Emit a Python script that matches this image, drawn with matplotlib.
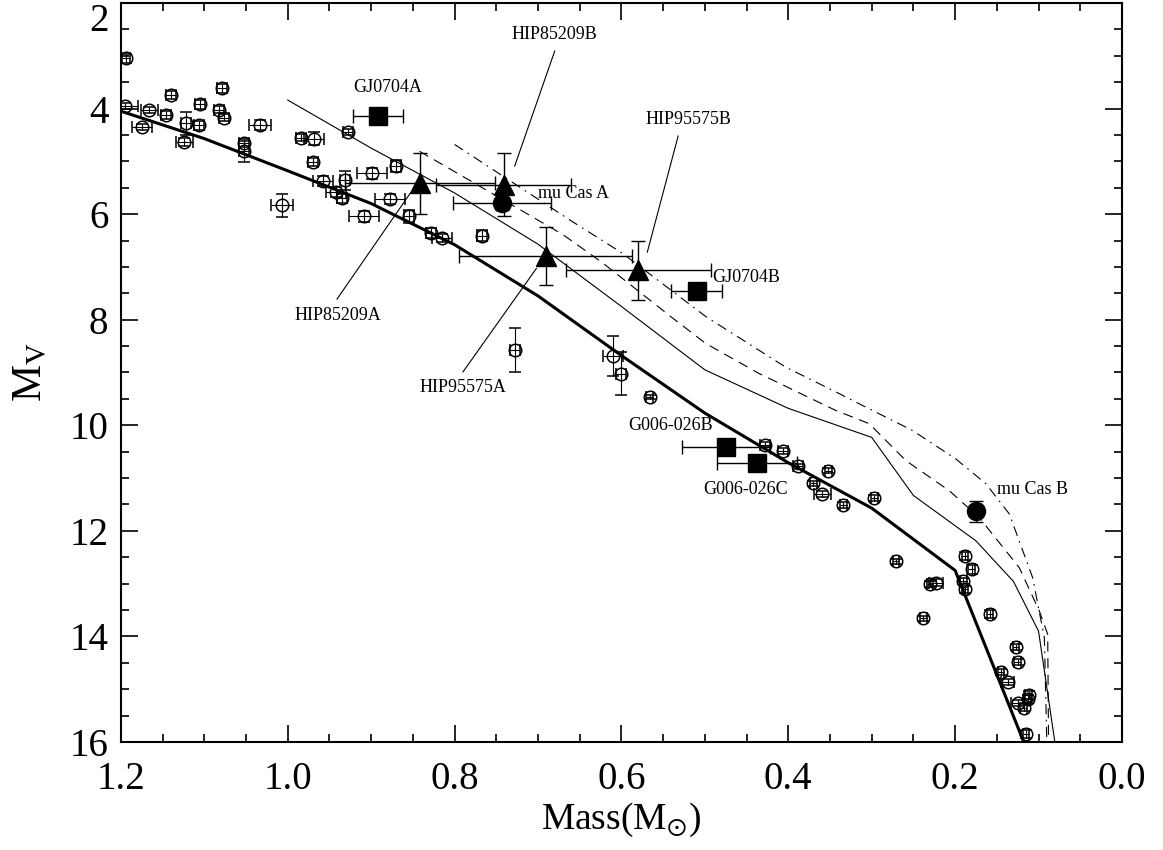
import matplotlib
matplotlib.use('Agg')
import matplotlib.pyplot as plt
from matplotlib.ticker import MultipleLocator

plt.rcParams['font.family'] = 'Liberation Serif'
plt.rcParams['mathtext.fontset'] = 'stix'

# field stars (open circles): mass, Mv, mass error, Mv error
field_mass = [1.194, 1.195, 1.166, 1.175, 1.146, 1.140, 1.122, 1.124, 1.106, 1.105,
              1.079, 1.083, 1.076, 1.053, 1.053, 1.033, 1.007, 0.984, 0.969, 0.970,
              0.958, 0.932, 0.942, 0.935, 0.928, 0.899, 0.909, 0.878, 0.870, 0.855,
              0.828, 0.815, 0.767, 0.728, 0.610, 0.600, 0.566, 0.428, 0.406, 0.388,
              0.352, 0.370, 0.359, 0.334, 0.297, 0.271, 0.230, 0.223, 0.238, 0.188,
              0.180, 0.190, 0.188, 0.158, 0.127, 0.125, 0.145, 0.137, 0.112, 0.113,
              0.125, 0.118, 0.115]
field_mv = [3.05, 3.95, 4.03, 4.35, 4.12, 3.74, 4.28, 4.63, 4.32, 3.92,
            3.62, 4.02, 4.17, 4.65, 4.81, 4.31, 5.83, 4.55, 4.57, 5.01,
            5.37, 5.36, 5.58, 5.70, 4.45, 5.23, 6.04, 5.71, 5.09, 6.04,
            6.36, 6.45, 6.41, 8.58, 8.69, 9.02, 9.47, 10.37, 10.49, 10.78,
            10.86, 11.10, 11.30, 11.51, 11.38, 12.58, 13.01, 12.98, 13.66, 12.48,
            12.73, 12.95, 13.11, 13.58, 14.20, 14.49, 14.68, 14.87, 15.11, 15.19,
            15.26, 15.35, 15.85]
field_merr = [0.005, 0.016, 0.010, 0.012, 0.006, 0.006, 0.006, 0.010, 0.006, 0.006,
              0.006, 0.006, 0.006, 0.006, 0.006, 0.013, 0.013, 0.006, 0.012, 0.006,
              0.012, 0.006, 0.012, 0.006, 0.006, 0.018, 0.018, 0.018, 0.006, 0.006,
              0.006, 0.012, 0.006, 0.006, 0.012, 0.006, 0.004, 0.006, 0.006, 0.006,
              0.004, 0.004, 0.010, 0.004, 0.004, 0.004, 0.004, 0.008, 0.004, 0.004,
              0.004, 0.004, 0.004, 0.004, 0.004, 0.004, 0.004, 0.008, 0.004, 0.004,
              0.008, 0.004, 0.004]
field_mverr = [0.08, 0.05, 0.06, 0.06, 0.08, 0.08, 0.22, 0.08, 0.08, 0.08,
               0.08, 0.06, 0.06, 0.08, 0.20, 0.10, 0.22, 0.06, 0.12, 0.08,
               0.10, 0.18, 0.10, 0.08, 0.06, 0.10, 0.10, 0.10, 0.12, 0.12,
               0.10, 0.08, 0.10, 0.42, 0.38, 0.40, 0.04, 0.05, 0.05, 0.05,
               0.05, 0.05, 0.05, 0.05, 0.05, 0.05, 0.06, 0.06, 0.05, 0.08,
               0.08, 0.06, 0.06, 0.08, 0.05, 0.06, 0.06, 0.06, 0.08, 0.08,
               0.06, 0.06, 0.08]

# binaries
sq_names = ['GJ0704A', 'GJ0704B', 'G006-026B', 'G006-026C']
sq_mass = [0.892, 0.510, 0.475, 0.438]
sq_mv = [4.14, 7.45, 10.42, 10.72]
sq_merr = [0.030, 0.030, 0.053, 0.048]

tri_names = ['HIP85209A', 'HIP85209B', 'HIP95575A', 'HIP95575B']
tri_mass = [0.841, 0.741, 0.691, 0.580]
tri_mv = [5.42, 5.44, 6.80, 7.06]
tri_merr = [0.090, 0.081, 0.104, 0.087]
tri_mverr = [0.57, 0.60, 0.55, 0.56]

mucas_names = ['mu Cas A', 'mu Cas B']
mucas_mass = [0.743, 0.175]
mucas_mv = [5.78, 11.63]
mucas_merr = [0.059, 0.004]
mucas_mverr = [0.15, 0.20]

# model curves
thick_mass = [1.2, 1.1, 1.0, 0.9, 0.8, 0.7, 0.6, 0.5, 0.4, 0.3, 0.2, 0.1]
thick_mv = [4.05, 4.57, 5.18, 5.80, 6.58, 7.55, 8.68, 9.77, 10.71, 11.57, 12.75, 16.7]

solid_mass = [1.0, 0.9, 0.8, 0.7, 0.6, 0.5, 0.4, 0.3, 0.25, 0.175, 0.13, 0.1, 0.08]
solid_mv = [3.84, 4.75, 5.60, 6.57, 7.75, 8.95, 9.68, 10.23, 11.33, 12.19, 12.96, 13.90, 16.05]

dash_mass = [0.842, 0.670, 0.622, 0.541, 0.499, 0.435, 0.343, 0.303, 0.259, 0.207,
             0.171, 0.123, 0.099, 0.089, 0.088]
dash_mv = [4.81, 6.39, 6.93, 7.94, 8.45, 9.02, 9.72, 9.97, 10.67, 11.24,
           11.75, 12.70, 13.52, 13.96, 16.05]

dashdot_mass = [0.800, 0.662, 0.599, 0.499, 0.403, 0.339, 0.323, 0.251, 0.199, 0.163,
                0.135, 0.107, 0.093, 0.090]
dashdot_mv = [4.68, 6.11, 6.74, 7.94, 8.90, 9.40, 9.53, 10.10, 10.64, 11.11,
              11.68, 12.89, 14.03, 16.05]

# labels: text, x, y, horizontal alignment
label_text = ['GJ0704A', 'HIP85209B', 'HIP95575B', 'mu Cas A', 'GJ0704B',
              'HIP85209A', 'HIP95575A', 'G006-026B', 'G006-026C', 'mu Cas B']
label_x = [0.880, 0.680, 0.520, 0.700, 0.491, 0.940, 0.790, 0.541, 0.451, 0.150]
label_y = [3.60, 2.59, 4.21, 5.60, 7.20, 7.93, 9.29, 10.00, 11.21, 11.22]
label_ha = ['center', 'center', 'center', 'left', 'left',
            'center', 'center', 'center', 'center', 'left']

# leader lines ((x0, x1), (y0, y1))
leaders = [((0.680, 0.728), (2.91, 5.09)),
           ((0.532, 0.569), (4.52, 6.72)),
           ((0.941, 0.853), (7.61, 5.60)),
           ((0.790, 0.702), (8.99, 7.03))]

fig = plt.figure(figsize=(11.63, 8.5), dpi=100)
ax = fig.add_axes([0.1040, 0.1271, 0.8607, 0.8694])

ax.plot(thick_mass, thick_mv, color='k', lw=2.2)
ax.plot(solid_mass, solid_mv, color='k', lw=0.8)
ax.plot(dash_mass, dash_mv, color='k', lw=0.8, dashes=(9, 6))
ax.plot(dashdot_mass, dashdot_mv, color='k', lw=0.8, dashes=(9, 5, 1.5, 5))

for (lx, ly) in leaders:
    ax.plot(lx, ly, color='k', lw=0.8)

ax.errorbar(field_mass, field_mv, xerr=field_merr, yerr=field_mverr, fmt='o',
            mfc='none', mec='k', mew=1.1, ms=9, ecolor='k', elinewidth=0.8, capsize=4)
ax.errorbar(sq_mass, sq_mv, xerr=sq_merr, fmt='s', color='k', ms=12.5,
            elinewidth=1.0, capsize=5)
ax.errorbar(tri_mass, tri_mv, xerr=tri_merr, yerr=tri_mverr, fmt='^', color='k',
            ms=15, elinewidth=1.0, capsize=5)
ax.errorbar(mucas_mass, mucas_mv, xerr=mucas_merr, yerr=mucas_mverr, fmt='o',
            color='k', ms=13, elinewidth=1.0, capsize=5)

for t, x, y, ha in zip(label_text, label_x, label_y, label_ha):
    ax.text(x, y, t, fontsize=13, ha=ha, va='center')

ax.set_xlim(1.2, 0.0)
ax.set_ylim(16, 2)
ax.xaxis.set_major_locator(MultipleLocator(0.2))
ax.xaxis.set_minor_locator(MultipleLocator(0.05))
ax.yaxis.set_major_locator(MultipleLocator(2))
ax.yaxis.set_minor_locator(MultipleLocator(0.5))
ax.xaxis.set_major_formatter(plt.FuncFormatter(lambda v, p: '%.1f' % v))
ax.tick_params(which='both', direction='in', top=True, right=True, width=1.2)
ax.tick_params(which='major', length=12)
ax.tick_params(which='minor', length=6)
ax.tick_params(axis='x', labelsize=28, pad=14)
ax.tick_params(axis='y', labelsize=28, pad=9)
for s in ax.spines.values():
    s.set_linewidth(1.5)

ax.set_xlabel('Mass(M$_{\\odot}$)', fontsize=27, labelpad=2)
ax.set_ylabel('M$_\\mathrm{V}$', fontsize=30, labelpad=14)

# keep the top "2" inside the figure
fig.canvas.draw()
for lab in ax.get_yticklabels():
    if lab.get_text() == '2':
        lab.set_va('top')

plt.savefig('out.png', dpi=100)
